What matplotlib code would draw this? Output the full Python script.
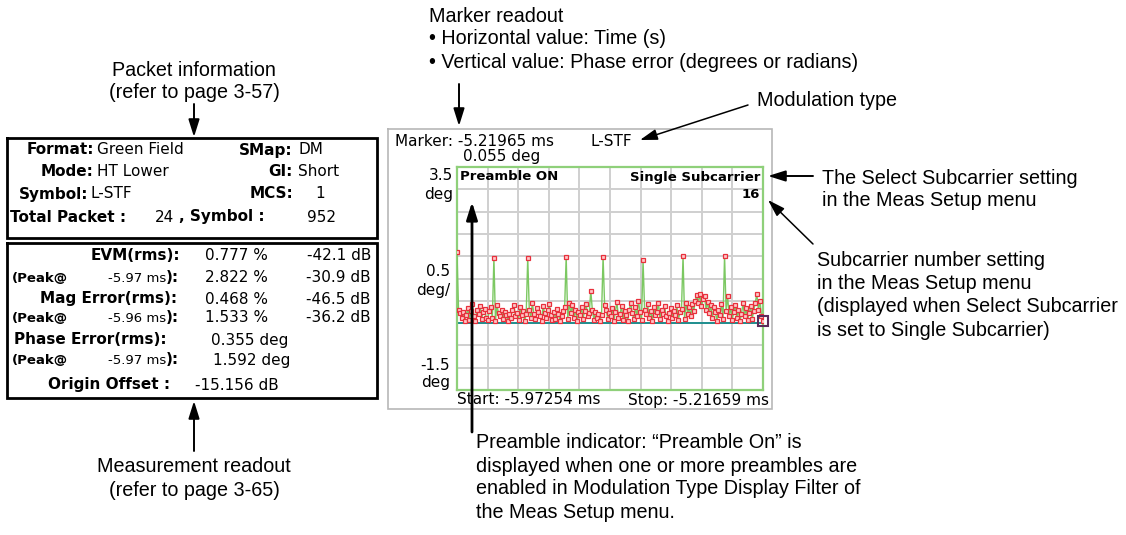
import numpy as np
import matplotlib
matplotlib.use("Agg")
import matplotlib.pyplot as plt

# ---------------- data ----------------
t_start, t_stop = -5.97254, -5.21659          # ms
y_top, y_bottom, y_div = 3.5, -1.5, 0.5       # deg
n_xdiv = 10
phase_err = [
    1.59, 0.30, 0.22, 0.12, 0.25, 0.05, 0.18, 0.33, 0.08, 0.28,
    0.42, 0.15, 0.05, 0.30, 0.20, 0.38, 0.10, 0.25, 0.32, 0.12,
    0.08, 0.28, 0.35, 0.12, 1.47, 0.05, 0.40, 0.22, 0.15, 0.30,
    0.10, 0.25, 0.18, 0.05, 0.20, 0.12, 0.30, 0.40, 0.15, 0.22,
    0.08, 0.35, 0.18, 0.28, 0.05, 0.20, 1.47, 0.30, 0.12, 0.45,
    0.20, 0.10, 0.33, 0.25, 0.15, 0.05, 0.38, 0.22, 0.12, 0.30,
    0.42, 0.18, 0.08, 0.25, 0.10, 0.32, 0.20, 0.05, 0.15, 0.28,
    0.35, 1.49, 0.10, 0.45, 0.22, 0.40, 0.12, 0.30, 0.05, 0.25,
    0.18, 0.35, 0.10, 0.28, 0.42, 0.15, 0.22, 0.73, 0.30, 0.08,
    0.25, 0.12, 0.20, 0.05, 0.18, 1.49, 0.40, 0.30, 0.10, 0.22,
    0.15, 0.33, 0.05, 0.25, 0.48, 0.12, 0.20, 0.38, 0.08, 0.28,
    0.18, 0.05, 0.30, 0.45, 0.22, 0.10, 0.35, 0.15, 0.50, 0.25,
    0.08, 1.41, 0.30, 0.20, 0.42, 0.12, 0.28, 0.05, 0.35, 0.18,
    0.25, 0.45, 0.10, 0.30, 0.20, 0.38, 0.15, 0.05, 0.22, 0.33,
    0.12, 0.28, 0.18, 0.40, 0.08, 0.25, 0.32, 1.51, 0.10, 0.45,
    0.20, 0.35, 0.15, 0.42, 0.28, 0.50, 0.62, 0.45, 0.65, 0.38,
    0.55, 0.60, 0.30, 0.48, 0.22, 0.40, 0.12, 0.35, 0.25, 0.05,
    0.30, 0.18, 0.42, 0.10, 1.51, 0.28, 0.60, 0.15, 0.35, 0.08,
    0.25, 0.40, 0.12, 0.30, 0.05, 0.20, 0.45, 0.15, 0.33, 0.08,
    0.22, 0.38, 0.10, 0.28, 0.45, 0.65, 0.30, 0.50, 0.15, 0.055,
]
packet_rows = [("Format:", "Green Field", "SMap:", "DM"),
               ("Mode:", "HT Lower", "GI:", "Short"),
               ("Symbol:", "L-STF", "MCS:", "1")]
total_packet, total_symbol = "24", "952"
meas_rows = [("EVM(rms):", "0.777 %", "-42.1 dB"),
             ("Mag Error(rms):", "0.468 %", "-46.5 dB"),
             ("Phase Error(rms):", "0.355 deg", "")]
peak_rows = [("-5.97 ms", "2.822 %", "-30.9 dB"),
             ("-5.96 ms", "1.533 %", "-36.2 dB"),
             ("-5.97 ms", "1.592 deg", "")]
origin_offset = "-15.156 dB"
marker_time, marker_val, mod_type = "-5.21965 ms", "0.055 deg", "L-STF"

# ---------------- figure ----------------
W, H = 1126, 535
fig = plt.figure(figsize=(W / 100, H / 100), dpi=100)
fig.patch.set_facecolor("white")

ANN = ["Liberation Sans", "DejaVu Sans"]
INS = ["DejaVu Sans"]
AFS = 14.2
IFS = 11

# data axes (green-framed display)
px0, px1, py0, py1 = 457, 763, 167, 390
ax = fig.add_axes([px0 / W, 1 - py1 / H, (px1 - px0) / W, (py1 - py0) / H])
t = np.linspace(t_start, t_stop, len(phase_err))
ax.set_xlim(t_start, t_stop)
ax.set_ylim(y_bottom, y_top)
ax.set_xticks(np.linspace(t_start, t_stop, n_xdiv + 1))
ax.set_yticks(np.arange(y_bottom, y_top + 1e-9, y_div))
ax.tick_params(length=0, labelbottom=False, labelleft=False)
ax.grid(True, color="#cfcfcf", lw=1.4)
ax.set_axisbelow(True)
for s in ax.spines.values():
    s.set_color("#8fd07a")
    s.set_linewidth(1.6)
ax.axhline(0, color="#1f8f8f", lw=1.4, zorder=2)
ax.plot(t, phase_err, color="#7cc862", lw=1.0, zorder=3,
        marker="s", ms=3.0, mfc="#ffc8c8", mec="#e8303c", mew=0.9)
ax.plot(t[-1:], phase_err[-1:], marker="s", ms=6.5, mfc="none",
        mec="#5a2a5a", mew=1.5, ls="none", zorder=4, clip_on=False)

# overlay in pixel coordinates
ov = fig.add_axes([0, 0, 1, 1], facecolor="none")
ov.set_xlim(0, W)
ov.set_ylim(H, 0)
ov.axis("off")


def rect(x0, y0, x1, y1, color, lw):
    ov.plot([x0, x1, x1, x0, x0], [y0, y0, y1, y1, y0], color=color, lw=lw,
            solid_joinstyle="miter")


def txt(x, y, s, ha="left", fam=INS, fs=IFS, fw="normal", **kw):
    ov.text(x, y, s, ha=ha, va="center", family=fam, fontsize=fs,
            fontweight=fw, color="black", **kw)


def arrow(tail, tip, lw=1.4):
    ov.annotate("", xy=tip, xytext=tail,
                arrowprops=dict(arrowstyle="-|>,head_length=0.7,head_width=0.22",
                                color="black", lw=lw, shrinkA=0, shrinkB=0,
                                mutation_scale=15))


# ---- left tables ----
rect(7, 138, 377, 238, "black", 2.0)
rect(7, 243, 377, 398, "black", 2.0)
row_y = [150, 172, 194]
lab_r = [94, 94, 88]
for (l1, v1, l2, v2), y, lr in zip(packet_rows, row_y, lab_r):
    txt(lr, y, l1, ha="right", fw="bold")
    txt(lr + 3, y, v1)
    txt(293, y, l2, ha="right", fw="bold")
    if l2 == "MCS:":
        txt(320, y, v2, ha="center")
    else:
        txt(298, y, v2)
txt(10, 217, "Total Packet :", fw="bold")
txt(174, 217, total_packet, ha="right")
txt(179, 217, ", Symbol :", fw="bold")
txt(336, 217, total_symbol, ha="right")

meas_y = [256, 299, 340]
peak_y = [278, 318, 360]
lab_right = [180, 177, 167]
for (lab, v1, v2), y, lr in zip(meas_rows, meas_y, lab_right):
    txt(lr, y, lab, ha="right", fw="bold")
    if v1.endswith("%"):
        txt(268, y, v1, ha="right")
    else:
        txt(211, y, v1)
    if v2:
        txt(371, y, v2, ha="right")
for (pt, v1, v2), y in zip(peak_rows, peak_y):
    txt(12, y, "(Peak@", fw="bold", fs=9.5)
    txt(166, y, pt, ha="right", fs=9.5)
    txt(166, y, "):", fw="bold")
    if v1.endswith("%"):
        txt(268, y, v1, ha="right")
    else:
        txt(213, y, v1)
    if v2:
        txt(371, y, v2, ha="right")
txt(170, 385, "Origin Offset :", ha="right", fw="bold")
txt(195, 385, origin_offset)

# ---- display panel ----
rect(388, 129, 772, 409, "#b8b8b8", 1.2)
txt(395, 142, "Marker: " + marker_time)
txt(590, 142, mod_type)
txt(463, 157, marker_val)
txt(453, 176, "3.5", ha="right")
txt(453, 194, "deg", ha="right")
txt(450, 272, "0.5", ha="right")
txt(450, 290, "deg/", ha="right")
txt(450, 366, "-1.5", ha="right")
txt(450, 382, "deg", ha="right")
txt(460, 177, "Preamble ON", fw="bold", fs=9.5)
txt(760, 177, "Single Subcarrier", ha="right", fw="bold", fs=9.5)
txt(760, 194, "16", ha="right", fw="bold", fs=9.5)
txt(457, 400, "Start: -5.97254 ms")
txt(769, 400, "Stop: -5.21659 ms", ha="right")

# ---- annotations ----
txt(194, 70, "Packet information", ha="center", fam=ANN, fs=AFS)
txt(194, 93, "(refer to page 3-57)", ha="center", fam=ANN, fs=AFS)
arrow((194, 104), (194, 137))

arrow((194, 451), (194, 401))
txt(194, 467, "Measurement readout", ha="center", fam=ANN, fs=AFS)
txt(194, 490, "(refer to page 3-65)", ha="center", fam=ANN, fs=AFS)

txt(429, 16, "Marker readout", fam=ANN, fs=AFS)
txt(429, 39, "\u2022 Horizontal value: Time (s)", fam=ANN, fs=AFS)
txt(429, 62, "\u2022 Vertical value: Phase error (degrees or radians)", fam=ANN, fs=AFS)
arrow((459, 84), (459, 126))

txt(757, 100, "Modulation type", fam=ANN, fs=AFS)
arrow((748, 105), (640, 140), lw=1.1)

arrow((813, 176), (768, 176))
txt(822, 178, "The Select Subcarrier setting", fam=ANN, fs=AFS)
txt(822, 201, "in the Meas Setup menu", fam=ANN, fs=AFS)

arrow((813, 244), (768, 200), lw=1.1)
for i, line in enumerate(["Subcarrier number setting",
                          "in the Meas Setup menu",
                          "(displayed when Select Subcarrier",
                          "is set to Single Subcarrier)"]):
    txt(817, 260 + 23.5 * i, line, fam=ANN, fs=AFS)

arrow((472, 432), (472, 202), lw=2.0)
for i, line in enumerate(["Preamble indicator: \u201cPreamble On\u201d is",
                          "displayed when one or more preambles are",
                          "enabled in Modulation Type Display Filter of",
                          "the Meas Setup menu."]):
    txt(476, 443 + 23 * i, line, fam=ANN, fs=AFS)

fig.savefig("out.png", dpi=100, facecolor="white")
